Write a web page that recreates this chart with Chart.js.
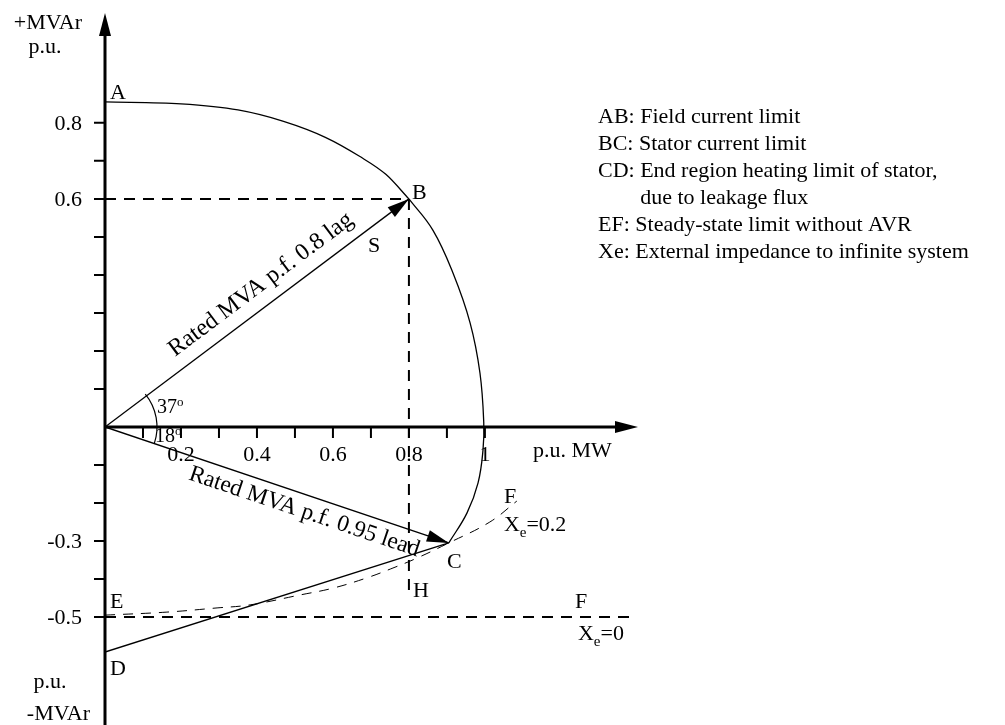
<!DOCTYPE html>
<html lang="en">
<head>
  <meta charset="UTF-8" />
  <title>Generator capability diagram</title>
  <script src="https://cdn.jsdelivr.net/npm/chart.js"></script>
  <style>
    body { margin: 0; background: #fff; }
    canvas { display: block; }
  </style>
</head>
<body>
  <canvas id="capChart" width="1005" height="725"></canvas>

  <script>
    // values: x = p.u. MW, y = p.u. MVAr
    const abMW   = [0, 0.2, 0.35, 0.47, 0.58, 0.67, 0.74, 0.8];
    const abMVAr = [0.855, 0.85, 0.834, 0.804, 0.762, 0.712, 0.664, 0.6];

    const bcMW   = [0.8, 0.863, 0.916, 0.961, 0.987, 0.997, 0.995, 0.982, 0.953, 0.905];
    const bcMVAr = [0.6, 0.518, 0.405, 0.274, 0.142, 0.011, -0.061, -0.147, -0.226, -0.305];

    const cdMW   = [0.905, 0];
    const cdMVAr = [-0.305, -0.592];

    const efMW   = [0, 0.163, 0.295, 0.382, 0.513, 0.6, 0.689, 0.758, 0.821, 0.905, 1.013, 1.084];
    const efMVAr = [-0.495, -0.487, -0.476, -0.468, -0.442, -0.424, -0.397, -0.371, -0.345, -0.305, -0.25, -0.195];

    const ef0MW   = [0, 1.4];
    const ef0MVAr = [-0.5, -0.5];

    const guideMW   = [0, 0.8, 0.8];
    const guideMVAr = [0.6, 0.6, -0.45];

    const lagMW  = [0, 0.8];
    const lagMVAr = [0, 0.6];
    const leadMW  = [0, 0.905];
    const leadMVAr = [0, -0.305];

    const xTicks      = [0.1, 0.2, 0.3, 0.4, 0.5, 0.6, 0.7, 0.8, 0.9, 1.0];
    const xTickLabels = ['', '0.2', '', '0.4', '', '0.6', '', '0.8', '', '1'];
    const yTicks      = [-0.5, -0.4, -0.3, -0.2, -0.1, 0.1, 0.2, 0.3, 0.4, 0.5, 0.6, 0.7, 0.8];
    const yTickLabels = ['-0.5', '', '-0.3', '', '', '', '', '', '', '', '0.6', '', '0.8'];

    const limitNotes = [
      'AB: Field current limit',
      'BC: Stator current limit',
      'CD: End region heating limit of stator,',
      'due to leakage flux',
      'EF: Steady-state limit without AVR',
      'Xe: External impedance to infinite system'
    ];

    // letters placed next to the points (data coords of the text baseline start)
    const pointLabels = [
      { t: 'A', x: 0.013, y: 0.863 },
      { t: 'B', x: 0.808, y: 0.600 },
      { t: 'C', x: 0.900, y: -0.371 },
      { t: 'D', x: 0.013, y: -0.653 },
      { t: 'E', x: 0.013, y: -0.476 },
      { t: 'H', x: 0.811, y: -0.447 },
      { t: 'S', x: 0.692, y: 0.460 },
      { t: 'F', x: 1.050, y: -0.200 },
      { t: 'F', x: 1.237, y: -0.476 }
    ];

    const SERIF = '"Liberation Serif", "DejaVu Serif", serif';

    function pts(xs, ys) {
      return xs.map((x, i) => ({ x: x, y: ys[i] }));
    }

    function line(data, opts) {
      return Object.assign({
        data: data,
        showLine: true,
        borderColor: '#000',
        borderWidth: 1.3,
        pointRadius: 0,
        fill: false
      }, opts);
    }

    function arrowHead(ctx, x0, y0, x1, y1, len, half) {
      const a = Math.atan2(y1 - y0, x1 - x0);
      ctx.save();
      ctx.translate(x1, y1);
      ctx.rotate(a);
      ctx.beginPath();
      ctx.moveTo(0, 0);
      ctx.lineTo(-len, -half);
      ctx.lineTo(-len, half);
      ctx.closePath();
      ctx.fill();
      ctx.restore();
    }

    function richText(ctx, parts, x, y) {
      let cx = x;
      parts.forEach(([t, size, dy]) => {
        ctx.font = size + 'px ' + SERIF;
        ctx.fillText(t, cx, y + dy);
        cx += ctx.measureText(t).width;
      });
    }

    const diagramPlugin = {
      id: 'diagram',
      afterDatasetsDraw(chart) {
        const ctx = chart.ctx;
        const xs = chart.scales.x, ys = chart.scales.y;
        const X = v => xs.getPixelForValue(v);
        const Y = v => ys.getPixelForValue(v);
        const ox = X(0), oy = Y(0);
        const area = chart.chartArea;

        ctx.save();
        ctx.fillStyle = '#000';
        ctx.strokeStyle = '#000';

        // axes
        ctx.lineWidth = 3;
        ctx.beginPath();
        ctx.moveTo(ox, area.bottom);
        ctx.lineTo(ox, area.top + 10);
        ctx.moveTo(ox, oy);
        ctx.lineTo(area.right - 10, oy);
        ctx.stroke();
        arrowHead(ctx, ox, oy, ox, area.top, 23, 6);
        arrowHead(ctx, ox, oy, area.right, oy, 23, 6);

        // ticks
        ctx.lineWidth = 2;
        ctx.beginPath();
        xTicks.forEach(v => { ctx.moveTo(X(v), oy); ctx.lineTo(X(v), oy + 11); });
        yTicks.forEach(v => { ctx.moveTo(ox, Y(v)); ctx.lineTo(ox - 11, Y(v)); });
        ctx.stroke();

        ctx.font = '22px ' + SERIF;
        ctx.textAlign = 'center';
        ctx.textBaseline = 'alphabetic';
        xTicks.forEach((v, i) => { if (xTickLabels[i]) ctx.fillText(xTickLabels[i], X(v), oy + 34); });
        ctx.textAlign = 'right';
        ctx.textBaseline = 'middle';
        yTicks.forEach((v, i) => { if (yTickLabels[i]) ctx.fillText(yTickLabels[i], ox - 23, Y(v) + 1); });

        // axis titles
        ctx.textBaseline = 'alphabetic';
        ctx.textAlign = 'right';
        ctx.fillText('+MVAr', 82, 29);
        ctx.fillText('-MVAr', 90, 720);
        ctx.textAlign = 'center';
        ctx.fillText('p.u.', 45, 53);
        ctx.fillText('p.u.', 50, 688);
        ctx.textAlign = 'left';
        ctx.fillText('p.u. MW', 533, 457);

        // arrow heads on the rated MVA vectors
        arrowHead(ctx, X(lagMW[0]), Y(lagMVAr[0]), X(lagMW[1]), Y(lagMVAr[1]), 22, 6);
        arrowHead(ctx, X(leadMW[0]), Y(leadMVAr[0]), X(leadMW[1]), Y(leadMVAr[1]), 22, 6);

        // angle arc
        const aLag = Math.atan2(Y(lagMVAr[1]) - oy, X(lagMW[1]) - ox);
        const aLead = Math.atan2(Y(leadMVAr[1]) - oy, X(leadMW[1]) - ox);
        ctx.lineWidth = 1.2;
        ctx.beginPath();
        ctx.arc(ox, oy, 52, aLag - 0.04, aLead);
        ctx.stroke();
        richText(ctx, [['37', 20, 0], ['o', 13, -7]], 157, 413);
        richText(ctx, [['18', 20, 0], ['o', 13, -7]], 155, 442);

        // rotated captions along the vectors
        ctx.textAlign = 'left';
        ctx.save();
        ctx.font = '24px ' + SERIF;
        ctx.translate(ox + 0.258 * (X(lagMW[1]) - ox), oy + 0.258 * (Y(lagMVAr[1]) - oy));
        ctx.rotate(aLag);
        ctx.fillText('Rated MVA p.f. 0.8 lag', 0, -14);
        ctx.restore();
        ctx.save();
        ctx.font = '23.5px ' + SERIF;
        ctx.translate(ox + 0.262 * (X(leadMW[1]) - ox), oy + 0.262 * (Y(leadMVAr[1]) - oy));
        ctx.rotate(aLead);
        ctx.fillText('Rated MVA p.f. 0.95 lead', 0, 23);
        ctx.restore();

        // point letters
        ctx.font = '22px ' + SERIF;
        pointLabels.forEach(p => ctx.fillText(p.t, X(p.x), Y(p.y)));

        // external impedance labels
        richText(ctx, [['X', 22, 0], ['e', 15, 6], ['=0.2', 22, 0]], X(1.05), Y(-0.274));
        richText(ctx, [['X', 22, 0], ['e', 15, 6], ['=0', 22, 0]], X(1.245), Y(-0.56));

        // notes
        ctx.font = '22px ' + SERIF;
        const indent = ctx.measureText('CD: ').width;
        limitNotes.forEach((t, i) => {
          const dx = (i === 3) ? indent : 0;
          ctx.fillText(t, 598 + dx, 123 + i * 27);
        });

        ctx.restore();
      }
    };

    new Chart(document.getElementById('capChart'), {
      type: 'scatter',
      data: {
        datasets: [
          line(pts(abMW, abMVAr), { tension: 0.4, cubicInterpolationMode: 'monotone' }),
          line(pts(bcMW, bcMVAr), { tension: 0.4 }),
          line(pts(cdMW, cdMVAr), {}),
          line(pts(efMW, efMVAr), { tension: 0.4, borderWidth: 1, borderDash: [10, 8] }),
          line(pts(ef0MW, ef0MVAr), { borderWidth: 2, borderDash: [11, 8] }),
          line(pts(guideMW, guideMVAr), { borderWidth: 2, borderDash: [11, 8] }),
          line(pts(lagMW, lagMVAr), {}),
          line(pts(leadMW, leadMVAr), {})
        ]
      },
      options: {
        responsive: false,
        animation: false,
        layout: { padding: { left: 105, right: 367, top: 13, bottom: 0 } },
        scales: {
          x: { type: 'linear', min: 0, max: 1.403, display: false },
          y: { type: 'linear', min: -0.784, max: 1.089, display: false }
        },
        plugins: {
          legend: { display: false },
          tooltip: { enabled: false }
        }
      },
      plugins: [diagramPlugin]
    });
  </script>
</body>
</html>
